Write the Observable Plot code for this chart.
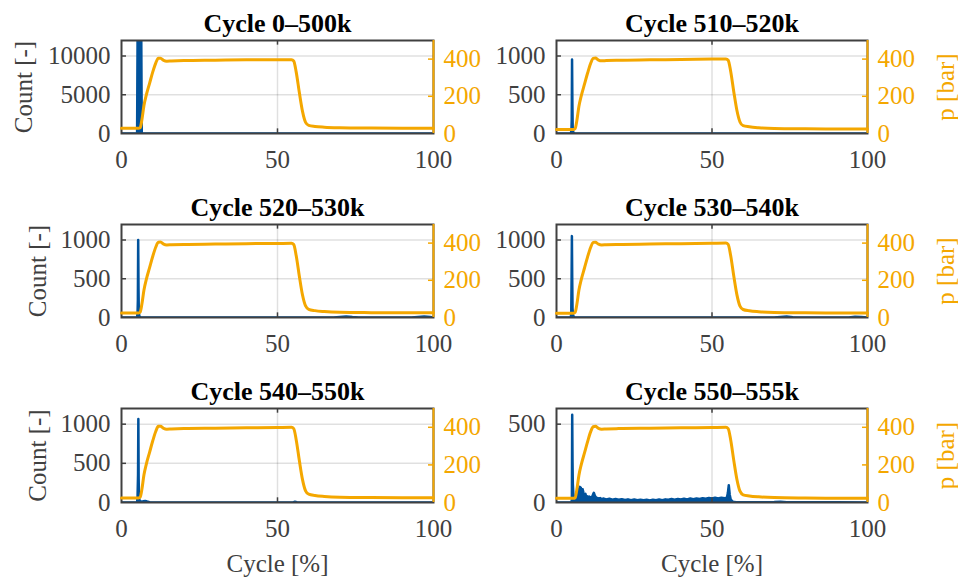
<!DOCTYPE html>
<html><head><meta charset="utf-8">
<script src="https://cdn.jsdelivr.net/npm/d3@7"></script>
<script src="https://cdn.jsdelivr.net/npm/@observablehq/plot@0.6"></script>
<style>
body{margin:0;background:#fff;}
#chart{position:relative;width:958px;height:579px;overflow:hidden;background:#fff;}
#chart svg{position:absolute;overflow:visible;}
</style></head><body><div id="chart"></div>
<script>
// ---------- data ----------
const titles = ["Cycle 0–500k","Cycle 510–520k","Cycle 520–530k","Cycle 530–540k","Cycle 540–550k","Cycle 550–555k"];
const countMax = [12000,1200,1200,1200,1200,600];
const countTicks = [[0,5000,10000],[0,500,1000],[0,500,1000],[0,500,1000],[0,500,1000],[0,500]];
const pressureMax = 500;
const pressureTicks = [0,200,400];
const xTicks = [0,50,100];
const xLabel = "Cycle [%]";
const countLabel = "Count [-]";
const pressureLabel = "p [bar]";

// pressure curve sample positions (cycle %)
const pressX = [0,5.5,6.0,6.5,7.2,8.0,9.0,10.0,11.0,11.8,12.5,13.5,14.5,16,20,30,40,50,54.5,55.2,56,57,58,59,60,62,65,70,80,90,100];
const press0 = [28,28,32,70,150,210,270,330,380,405,405,393,389,390,392,394,396,397,397,390,330,220,120,60,44,38,34,31,29,28,28];
const press1 = [22,22,27,65,145,205,265,325,378,404,406,395,391,392,394,396,398,400,401,394,335,225,125,62,42,36,31,27,25,24,24];
const press2 = [24,24,29,68,148,208,268,328,379,405,406,394,390,391,393,395,397,398,399,392,332,222,122,62,44,37,32,28,26,25,25];
const press3 = [23,23,28,66,146,206,266,326,378,404,405,394,390,391,393,395,397,399,400,393,333,223,123,61,43,36,31,27,25,24,24];
const press4 = [24,24,29,67,147,207,267,327,379,405,405,394,390,391,393,395,397,399,400,393,333,223,123,62,44,37,32,28,26,25,25];
const press5 = [22,22,26,64,144,204,264,324,377,403,405,394,390,391,393,395,397,399,400,393,334,224,124,60,41,35,30,26,24,23,23];

// counts: [cycle %, count]
const counts0 = [[0,0],[5.0,0],[5.2,16000],[5.6,25000],[6.0,20000],[6.3,15000],[6.5,0],[100,0]];
const counts1 = [[0,0],[4.6,0],[4.8,40],[4.9,180],[5.0,955],[5.1,420],[5.2,80],[5.4,15],[5.7,3],[6,0],[100,0]];
const counts2 = [[0,0],[5.0,0],[5.15,60],[5.25,230],[5.35,1000],[5.45,380],[5.55,70],[5.7,20],[6.0,5],[6.5,0],[68,0],[70,6],[72,12],[74,5],[76,0],[93,0],[95,8],[97,14],[99,5],[100,0]];
const counts3 = [[0,0],[4.6,0],[4.75,60],[4.85,480],[4.95,1050],[5.05,520],[5.15,120],[5.3,30],[5.6,8],[6,0],[70,0],[72,8],[74,12],[76,4],[78,0],[94,0],[96,10],[98,6],[100,0]];
const counts4 = [[0,0],[5.0,0],[5.15,80],[5.3,350],[5.4,1065],[5.5,300],[5.6,60],[5.8,25],[6.2,10],[7,15],[7.6,20],[8.2,12],[9,3],[10,0],[55,0],[55.6,10],[56.2,4],[57,0],[100,0]];
const counts5 = [[0,0],[4.8,0],[4.95,20],[5.05,560],[5.15,260],[5.25,120],[5.4,60],[5.6,30],[5.8,20],[6.0,35],[6.3,25],[6.6,45],[6.9,70],[7.2,80],[7.5,100],[7.8,95],[8.1,70],[8.4,85],[8.7,60],[9.0,45],[9.3,55],[9.6,35],[9.9,40],[10.2,30],[10.5,38],[10.8,28],[11.1,35],[11.4,30],[11.7,48],[12.0,62],[12.3,45],[12.6,35],[13,30],[13.5,26],[14,28],[14.5,22],[15,25],[16,20],[17,24],[18,18],[19,22],[20,17],[21,21],[22,16],[23,20],[24,15],[25,19],[26,14],[27,18],[28,15],[29,17],[30,13],[31,18],[32,14],[33,19],[34,15],[35,20],[36,17],[37,22],[38,18],[39,23],[40,19],[41,24],[42,20],[43,25],[44,21],[45,26],[46,22],[47,27],[48,24],[49,29],[50,25],[51,30],[52,26],[53,31],[54,27],[54.8,30],[55.1,60],[55.4,110],[55.7,50],[56,20],[56.5,8],[57,3],[58,2],[60,1],[65,2],[70,3],[72,5],[74,2],[80,2],[90,1],[100,0]];

const pressures = [press0,press1,press2,press3,press4,press5];
const counts = [counts0,counts1,counts2,counts3,counts4,counts5];

// ---------- style ----------
const BLUE = "#00529c";
const ORANGE = "#f4a700";
const AXIS = "#404040";
const FONT = "Liberation Serif, Times New Roman, serif";
const FS = 25;

const chart = document.getElementById("chart");
const fmt = d => String(d);

function place(svg, left, top) {
  svg.style.left = left + "px";
  svg.style.top = top + "px";
  chart.appendChild(svg);
}

for (let i = 0; i < 6; i++) {
  const col = i % 2, row = Math.floor(i / 2);
  const left = col === 0 ? 0 : 479;
  const top = row * 184;
  const width = 479;
  const height = row === 2 ? 211 : 184;
  const marginLeft = col === 0 ? 121 : 77;
  const marginRight = col === 0 ? 46 : 91;
  const marginTop = 40;
  const marginBottom = row === 2 ? 77 : 51;
  const cmax = countMax[i];
  const cticks = countTicks[i];
  const pts = counts[i];
  const ppts = pressX.map((x, k) => [x, pressures[i][k]]);
  const base = {width, height, marginLeft, marginRight, marginTop, marginBottom,
    style: {background: "transparent", fontFamily: FONT, fontSize: FS + "px", color: AXIS, overflow: "visible"}};

  const countPlot = Plot.plot({
    ...base,
    x: {domain: [0, 100]},
    y: {domain: [0, cmax]},
    marks: [
      Plot.gridY(cticks.filter(d => d > 0), {stroke: "#000", strokeOpacity: 0.12, strokeWidth: 1.5}),
      Plot.gridX([50], {stroke: "#000", strokeOpacity: 0.12, strokeWidth: 1.5}),
      Plot.areaY(pts, {x: d => d[0], y: d => d[1], fill: BLUE, clip: true}),
      Plot.lineY(pts, {x: d => d[0], y: d => d[1], stroke: BLUE, strokeWidth: 2.5, clip: true}),
      Plot.ruleY(cticks.filter(d => d > 0), {x1: 0, x2: 1.6, stroke: AXIS, strokeWidth: 1.5}),
      Plot.ruleX([50], {y1: 0, y2: cmax * 0.05, stroke: AXIS, strokeWidth: 1.5}),
      Plot.ruleX([50], {y1: cmax * 0.95, y2: cmax, stroke: AXIS, strokeWidth: 1.5}),
      Plot.frame({stroke: AXIS, strokeWidth: 2}),
      Plot.axisY(cticks, {anchor: "left", tickSize: 0, tickPadding: 11, fontSize: FS, color: AXIS, tickFormat: fmt,
        label: col === 0 ? countLabel : null, labelAnchor: "center", labelArrow: "none",
        labelOffset: i === 0 ? 107 : 93}),
      Plot.axisX(xTicks, {anchor: "bottom", tickSize: 0, tickPadding: 17, fontSize: FS, color: AXIS, tickFormat: fmt,
        label: row === 2 ? xLabel : null, labelAnchor: "center", labelArrow: "none", labelOffset: 69}),
      Plot.text([titles[i]], {text: d => d, frameAnchor: "top", dy: -9, lineAnchor: "bottom",
        fontSize: 26, fontWeight: "bold", fill: "#000"})
    ]
  });

  const pressPlot = Plot.plot({
    ...base,
    x: {domain: [0, 100], axis: null},
    y: {domain: [0, pressureMax]},
    marks: [
      Plot.lineY(ppts, {x: d => d[0], y: d => d[1], stroke: ORANGE, strokeWidth: 3, curve: "monotone-x", strokeLinejoin: "round"}),
      Plot.ruleX([100], {stroke: ORANGE, strokeWidth: 2}),
      Plot.ruleY(pressureTicks.filter(d => d > 0), {x1: 98.4, x2: 100, stroke: ORANGE, strokeWidth: 1.5}),
      Plot.axisY(pressureTicks, {anchor: "right", tickSize: 0, tickPadding: 10, fontSize: FS, color: ORANGE, tickFormat: fmt,
        label: col === 1 ? pressureLabel : null, labelAnchor: "center", labelArrow: "none", labelOffset: 86})
    ]
  });

  place(countPlot, left, top);
  place(pressPlot, left, top);
}
</script>
</body></html>
